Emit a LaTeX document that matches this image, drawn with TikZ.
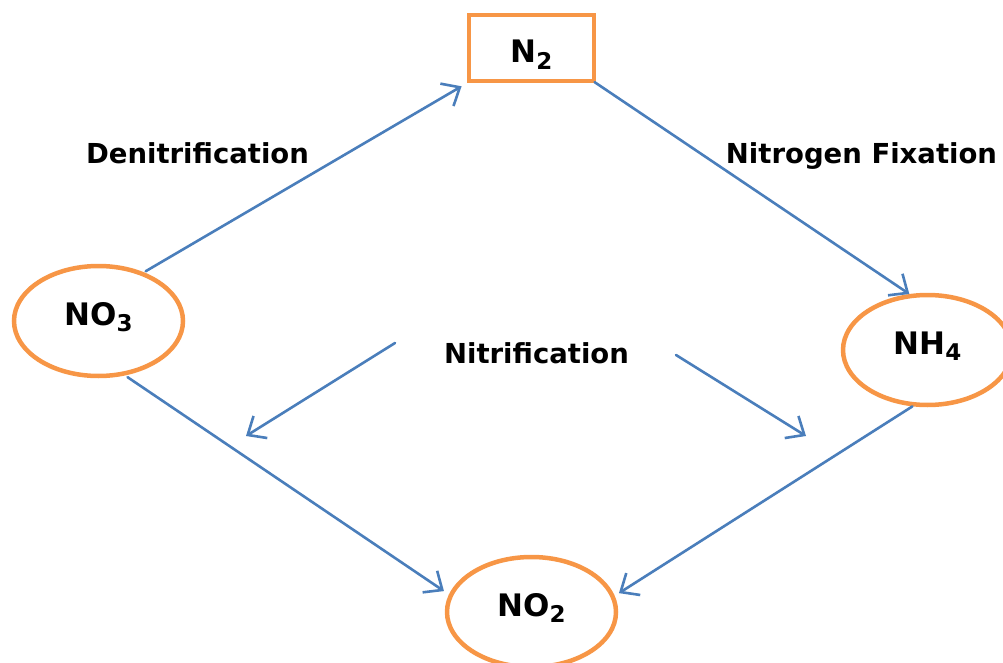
\documentclass[tikz,border=0pt]{standalone}
\usepackage{fontspec}
\setmainfont{DejaVu Sans}
\usetikzlibrary{shapes.geometric,arrows.meta}
\definecolor{orng}{HTML}{F79646}
\definecolor{arrblue}{HTML}{4A7EBB}
\newcommand{\chsub}[1]{\raisebox{-0.22em}{\fontsize{23}{23}\selectfont #1}}
\tikzset{
  chem/.style={ellipse, draw=orng, line width=4.5pt, minimum width=169pt, minimum height=110pt,
    inner sep=0pt, font=\fontsize{31}{31}\selectfont\bfseries, text height=23pt, text depth=15pt},
  chembox/.style={rectangle, draw=orng, line width=4.5pt, minimum width=125pt, minimum height=66pt,
    inner sep=0pt, font=\fontsize{31}{31}\selectfont\bfseries, text height=30pt, text depth=0pt},
  lbl/.style={font=\fontsize{27.5}{27.5}\selectfont\bfseries, anchor=base, inner sep=0pt},
  arr/.style={draw=arrblue, line width=2.6pt, line cap=round,
    -{Straight Barb[length=15pt,width=26pt,line width=2.6pt]}}
}
\begin{document}
\begin{tikzpicture}[x=1pt,y=-1pt]
\useasboundingbox (0,0) rectangle (1003,663);
\node[chembox] (n2) at (531.5,48) {N\chsub{2}};
\node[chem] (no3) at (98.5,321) {NO\chsub{3}};
\node[chem] (nh4) at (927.5,350) {NH\chsub{4}};
\node[chem] (no2) at (531.5,612) {NO\chsub{2}};
\node[lbl] (den) at (197.5,164) {Denitrification};
\node[lbl] (fix) at (861.5,164) {Nitrogen Fixation};
\node[lbl] (nit) at (536.5,363) {Nitrification};
\coordinate (a1) at (395,343);
\coordinate (a2) at (246,436);
\coordinate (b1) at (676,355);
\coordinate (b2) at (806,436);
\draw[arr, shorten >=6pt, shorten <=2pt] (no3.47) -- (n2.south west);
\draw[arr, shorten <=-2pt, shorten >=0pt] (n2.south east) -- (nh4.108);
\draw[arr, shorten <=3pt, shorten >=6pt] (no3.-64) -- (no2.168);
\draw[arr, shorten >=5pt] (nh4.255) -- (no2.11);
\draw[arr] (a1) -- (a2);
\draw[arr] (b1) -- (b2);
\end{tikzpicture}
\end{document}
